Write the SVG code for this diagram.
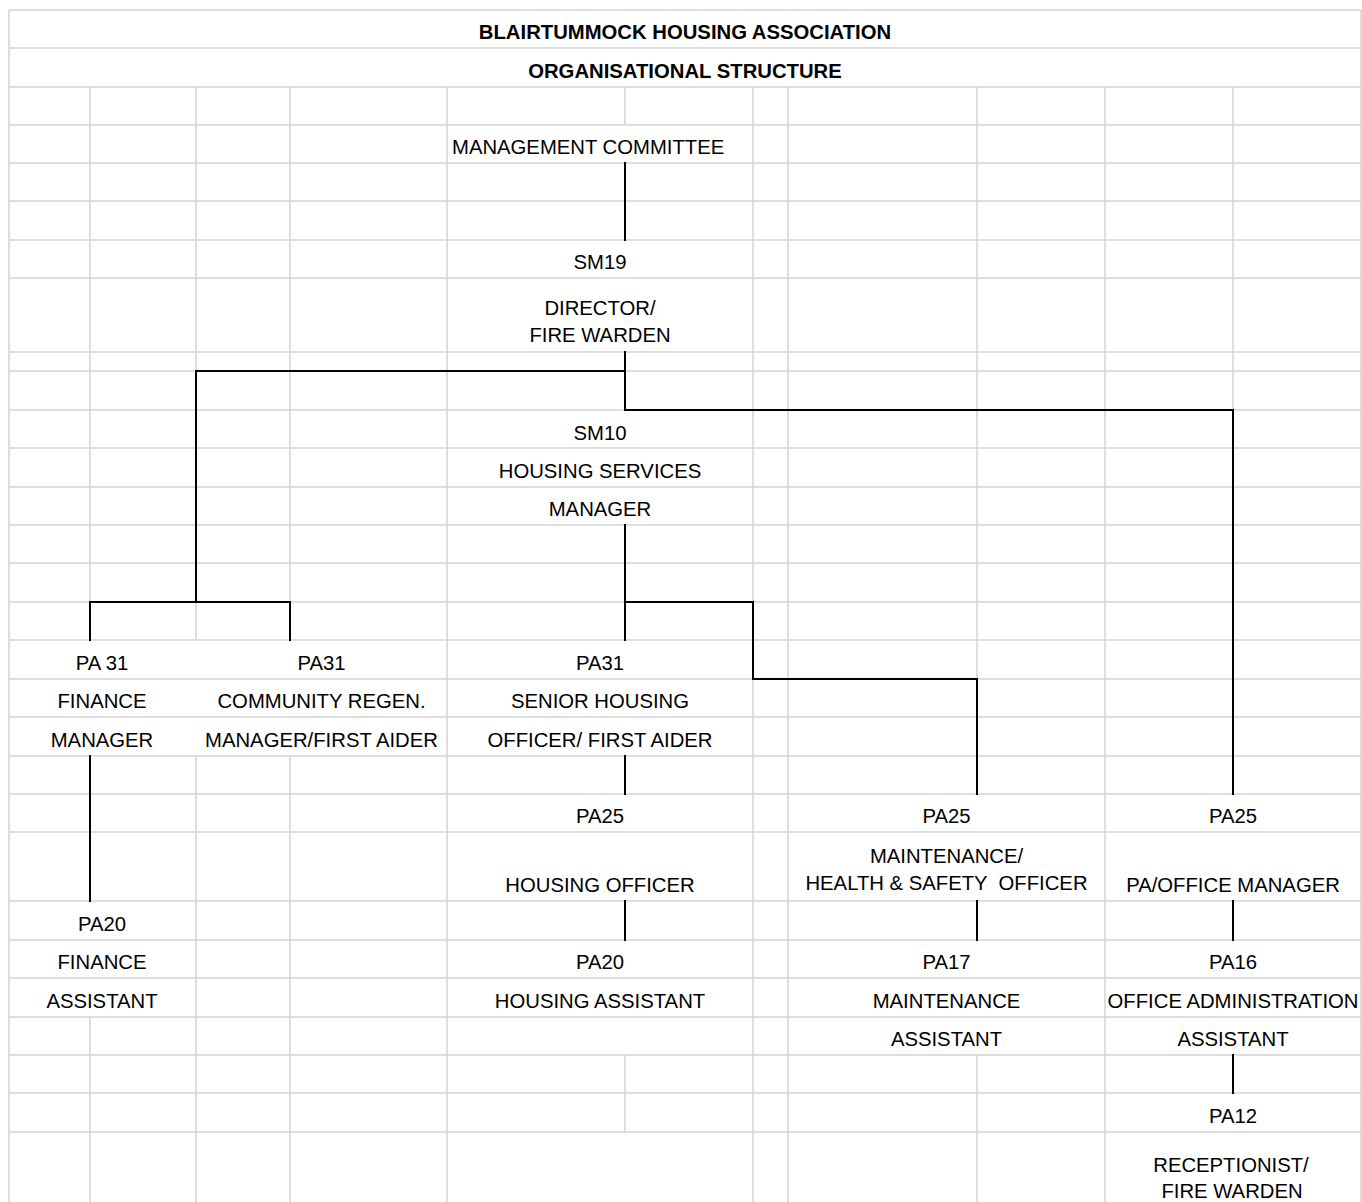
<svg xmlns="http://www.w3.org/2000/svg" width="1362" height="1202" viewBox="0 0 1362 1202">
<style>
  .grid { fill: none; stroke: #d4d4d4; stroke-width: 1.5; }
  .conn { fill: none; stroke: #000; stroke-width: 2; stroke-linecap: square; }
  text { font-family: "Liberation Sans", Arial, sans-serif; font-size: 20.3px; fill: #000; }
  .c { text-anchor: middle; }
  .b { font-weight: bold; }
</style>
<rect x="0" y="0" width="1362" height="1202" fill="#fff"/>
<g id="grid">
  <path class="grid" d="M9 10H1361 M9 48H1361 M9 87H1361 M9 125H1361 M9 163H1361 M9 201H1361 M9 240H1361 M9 278H1361 M9 352H1361 M9 371H1361 M9 410H1361 M9 448H1361 M9 487H1361 M9 525H1361 M9 563H1361 M9 602H1361 M9 640H1361 M9 679H1361 M9 717H1361 M9 756H1361 M9 794H1361 M9 832H1361 M9 901H1361 M9 940H1361 M9 978H1361 M9 1017H1361 M9 1055H1361 M9 1093H1361 M9 1132H1361"/>
  <path class="grid" d="M9 10V1202 M1361 10V1202
    M90 87V640 M90 756V901 M90 1017V1202
    M196 87V640 M196 756V1202
    M290 87V640 M290 756V1202
    M447 87V1202
    M625 87V125 M625 163V240 M625 352V410 M625 525V640 M625 756V794 M625 901V940 M625 1055V1132
    M753 87V1202
    M788 87V1202
    M977 87V794 M977 901V940 M977 1055V1202
    M1105 87V1202
    M1233 87V794 M1233 901V940 M1233 1055V1093"/>
</g>
<g id="connectors">
  <path class="conn" d="M625 163V240"/>
  <path class="conn" d="M625 352V410H1233V794"/>
  <path class="conn" d="M625 371H196V602"/>
  <path class="conn" d="M90 640V602H290V640"/>
  <path class="conn" d="M625 525V640"/>
  <path class="conn" d="M625 602H753V679H977V794"/>
  <path class="conn" d="M625 756V794"/>
  <path class="conn" d="M625 901V940"/>
  <path class="conn" d="M90 756V901"/>
  <path class="conn" d="M977 901V940"/>
  <path class="conn" d="M1233 901V940"/>
  <path class="conn" d="M1233 1055V1093"/>
</g>
<g id="title">
  <text class="c b" x="685" y="39">BLAIRTUMMOCK HOUSING ASSOCIATION</text>
  <text class="c b" x="685" y="78">ORGANISATIONAL STRUCTURE</text>
</g>
<g id="node-management-committee">
  <text x="452" y="154">MANAGEMENT COMMITTEE</text>
</g>
<g id="node-director">
  <text class="c" x="600" y="269">SM19</text>
  <text class="c" x="600" y="315">DIRECTOR/</text>
  <text class="c" x="600" y="342">FIRE WARDEN</text>
</g>
<g id="node-housing-services-manager">
  <text class="c" x="600" y="440">SM10</text>
  <text class="c" x="600" y="478">HOUSING SERVICES</text>
  <text class="c" x="600" y="516">MANAGER</text>
</g>
<g id="node-finance-manager">
  <text class="c" x="102" y="670">PA 31</text>
  <text class="c" x="102" y="708">FINANCE</text>
  <text class="c" x="102" y="747">MANAGER</text>
</g>
<g id="node-community-regen">
  <text class="c" x="321.5" y="670">PA31</text>
  <text class="c" x="321.5" y="708">COMMUNITY REGEN.</text>
  <text class="c" x="321.5" y="747">MANAGER/FIRST AIDER</text>
</g>
<g id="node-senior-housing-officer">
  <text class="c" x="600" y="670">PA31</text>
  <text class="c" x="600" y="708">SENIOR HOUSING</text>
  <text class="c" x="600" y="747">OFFICER/ FIRST AIDER</text>
</g>
<g id="node-housing-officer">
  <text class="c" x="600" y="823">PA25</text>
  <text class="c" x="600" y="892">HOUSING OFFICER</text>
</g>
<g id="node-maintenance-officer">
  <text class="c" x="946.5" y="823">PA25</text>
  <text class="c" x="946.5" y="863">MAINTENANCE/</text>
  <text class="c" x="946.5" y="890" xml:space="preserve">HEALTH &amp; SAFETY  OFFICER</text>
</g>
<g id="node-pa-office-manager">
  <text class="c" x="1233" y="823">PA25</text>
  <text class="c" x="1233" y="892">PA/OFFICE MANAGER</text>
</g>
<g id="node-finance-assistant">
  <text class="c" x="102" y="931">PA20</text>
  <text class="c" x="102" y="969">FINANCE</text>
  <text class="c" x="102" y="1008">ASSISTANT</text>
</g>
<g id="node-housing-assistant">
  <text class="c" x="600" y="969">PA20</text>
  <text class="c" x="600" y="1008">HOUSING ASSISTANT</text>
</g>
<g id="node-maintenance-assistant">
  <text class="c" x="946.5" y="969">PA17</text>
  <text class="c" x="946.5" y="1008">MAINTENANCE</text>
  <text class="c" x="946.5" y="1046">ASSISTANT</text>
</g>
<g id="node-office-administration-assistant">
  <text class="c" x="1233" y="969">PA16</text>
  <text class="c" x="1233" y="1008">OFFICE ADMINISTRATION</text>
  <text class="c" x="1233" y="1046">ASSISTANT</text>
</g>
<g id="node-receptionist">
  <text class="c" x="1233" y="1123">PA12</text>
  <text class="c" x="1231" y="1172">RECEPTIONIST/</text>
  <text class="c" x="1232" y="1198">FIRE WARDEN</text>
</g>
</svg>
